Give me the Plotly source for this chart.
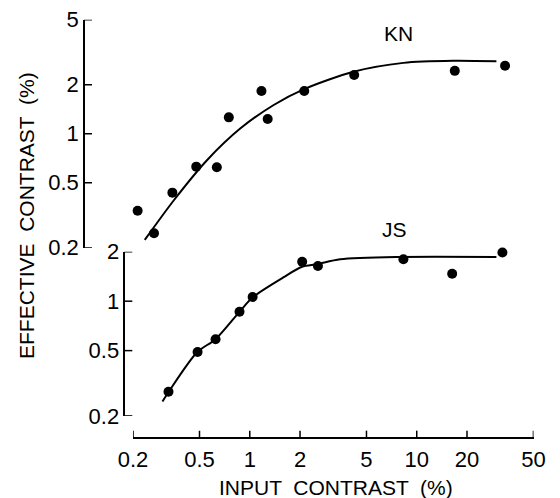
import plotly.graph_objects as go

# ---- data ----
kn_x = [0.213, 0.267, 0.344, 0.478, 0.635, 0.749, 1.175, 1.28, 2.12, 4.22, 16.9, 33.8]
kn_y = [0.337, 0.245, 0.435, 0.628, 0.622, 1.26, 1.83, 1.23, 1.83, 2.29, 2.43, 2.61]
kn_fit_x = [0.235, 0.352, 0.556, 0.880, 1.391, 2.10, 4.18, 8.32, 16.5, 30.0]
kn_fit_y = [0.223, 0.392, 0.690, 1.079, 1.50, 1.87, 2.40, 2.72, 2.80, 2.78]

js_x = [0.326, 0.487, 0.624, 0.868, 1.04, 2.06, 2.56, 4.09, 8.32, 16.3, 32.6]
js_y = [0.281, 0.49, 0.586, 0.863, 1.06, 1.74, 1.64, 2.13, 1.80, 1.47, 1.98]
js_fit_x = [0.300, 0.328, 0.485, 0.624, 0.872, 1.042, 1.596, 2.056, 2.53, 3.48, 7.95, 30.0]
js_fit_y = [0.245, 0.282, 0.490, 0.587, 0.867, 1.057, 1.40, 1.62, 1.68, 1.80, 1.86, 1.86]

x_ticks = [0.2, 0.5, 1, 2, 5, 10, 20, 50]
x_ticktext = ["0.2", "0.5", "1", "2", "5", "10", "20", "50"]
top_ticks = [0.2, 0.5, 1, 2, 5]
top_ticktext = ["0.2", "0.5", "1", "2", "5"]
bot_ticks = [0.2, 0.5, 1, 2]
bot_ticktext = ["0.2", "0.5", "1", "2"]

FONT = "Liberation Sans, Arial, Helvetica, sans-serif"
FS = 21
TFS = 22

# plotting area: 460 x 430 px; page body adds an 8 px offset, so the figure is 552 x 490
W, H = 552, 490
ML, MR, MT, MB = 72, 20, 2, 58
PW, PH = W - ML - MR, H - MT - MB
REF_L, REF_B = 80, 440  # plot-area left / bottom in window pixels
X_POS = 0.0054        # x axis line (paper y)
Y1_POS = 0.0087       # top y axis line (paper x)
Y2_POS = 0.0963       # bottom y axis line (paper x)
TICK_X = 7 / PH
TICK_Y = 8 / PW
EPS = 0.0004          # keep end ticks inside the axis ranges


def px(xw):
    return (xw - REF_L) / PW


def py(yw):
    return (REF_B - yw) / PH


fig = go.Figure()
fig.add_trace(go.Scatter(x=kn_fit_x, y=kn_fit_y, mode="lines", xaxis="x", yaxis="y",
                         line=dict(color="black", width=2, shape="spline", smoothing=0.8),
                         hoverinfo="skip", showlegend=False))
fig.add_trace(go.Scatter(x=kn_x, y=kn_y, mode="markers", xaxis="x", yaxis="y",
                         marker=dict(color="black", size=10), cliponaxis=False, showlegend=False))
fig.add_trace(go.Scatter(x=js_fit_x, y=js_fit_y, mode="lines", xaxis="x", yaxis="y2",
                         line=dict(color="black", width=2, shape="spline", smoothing=0.8),
                         hoverinfo="skip", showlegend=False))
fig.add_trace(go.Scatter(x=js_x, y=js_y, mode="markers", xaxis="x", yaxis="y2",
                         marker=dict(color="black", size=10), cliponaxis=False, showlegend=False))


def axis_common():
    return dict(type="log", showgrid=False, zeroline=False, showline=True, automargin=False,
                linecolor="black", linewidth=1.5, ticks="", ticklabeloverflow="allow",
                tickfont=dict(family=FONT, size=TFS, color="black"))


# inside tick marks drawn at the tick values
shapes = []
for v in x_ticks:
    shapes.append(dict(type="line", xref="x", yref="paper",
                       x0=v, x1=v, y0=X_POS, y1=X_POS + TICK_X,
                       line=dict(color="black", width=1.5)))
for v in top_ticks:
    shapes.append(dict(type="line", xref="paper", yref="y",
                       x0=Y1_POS, x1=Y1_POS + TICK_Y, y0=v, y1=v,
                       line=dict(color="black", width=1.5)))
for v in bot_ticks:
    shapes.append(dict(type="line", xref="paper", yref="y2",
                       x0=Y2_POS, x1=Y2_POS + TICK_Y, y0=v, y1=v,
                       line=dict(color="black", width=1.5)))

fig.update_layout(
    width=W, height=H,
    margin=dict(l=ML, r=MR, t=MT, b=MB, autoexpand=False),
    paper_bgcolor="white", plot_bgcolor="rgba(0,0,0,0)",
    font=dict(family=FONT, color="black"),
    xaxis=dict(**axis_common(), domain=[0.1152, 0.9859], anchor="free", position=X_POS,
               range=[-0.69897 - EPS, 1.69897 + EPS], tickvals=x_ticks, ticktext=x_ticktext,
               ticklabelstandoff=2),
    yaxis=dict(**axis_common(), domain=[0.4472, 0.9774], anchor="free", position=Y1_POS,
               range=[-0.69897 - EPS, 0.69897 + EPS], tickvals=top_ticks, ticktext=top_ticktext),
    yaxis2=dict(**axis_common(), domain=[0.0558, 0.4379], anchor="free", position=Y2_POS,
                range=[-0.69897 - EPS, 0.30103 + EPS], tickvals=bot_ticks, ticktext=bot_ticktext),
    shapes=shapes,
    annotations=[
        dict(text="KN", x=px(398), y=py(33), xref="paper", yref="paper",
             showarrow=False, xanchor="center", yanchor="middle",
             font=dict(family=FONT, size=FS, color="black")),
        dict(text="JS", x=px(394), y=py(229), xref="paper", yref="paper",
             showarrow=False, xanchor="center", yanchor="middle",
             font=dict(family=FONT, size=FS, color="black")),
        dict(text="INPUT  CONTRAST  (%)", x=px(336), y=py(487),
             xref="paper", yref="paper", showarrow=False, xanchor="center", yanchor="middle",
             font=dict(family=FONT, size=FS, color="black")),
        dict(text="EFFECTIVE  CONTRAST  (%)", x=px(26), y=py(216),
             xref="paper", yref="paper", showarrow=False, textangle=-90,
             xanchor="center", yanchor="middle",
             font=dict(family=FONT, size=FS, color="black")),
    ],
)

fig.write_html("out.html")
